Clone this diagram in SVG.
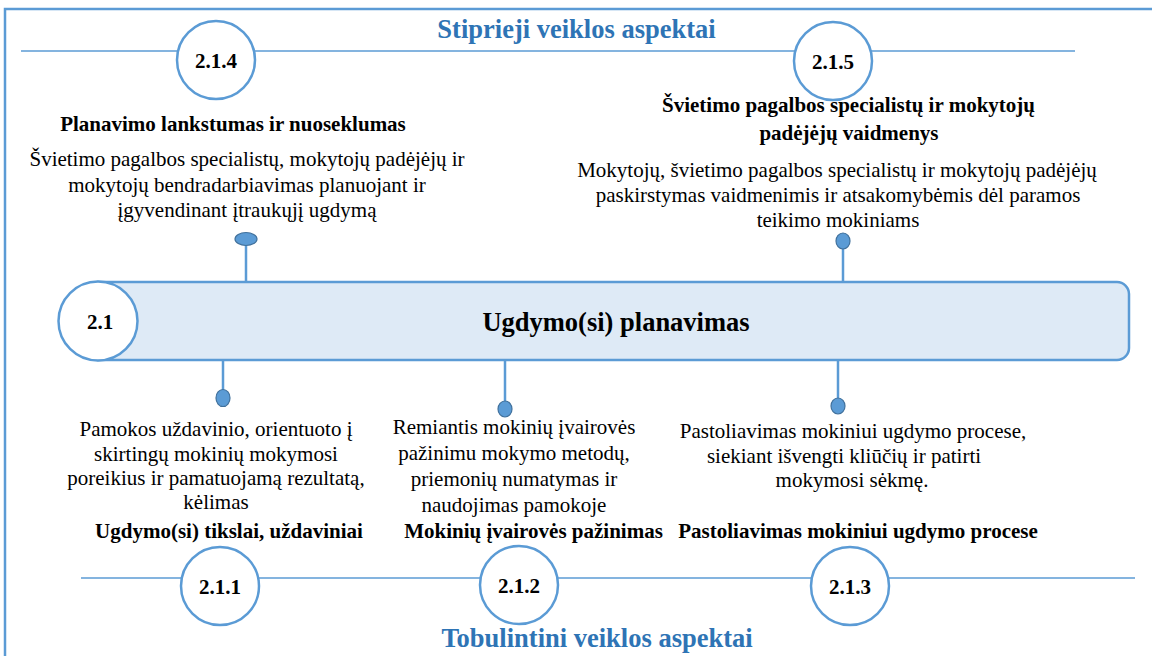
<svg xmlns="http://www.w3.org/2000/svg" width="1152" height="656" viewBox="0 0 1152 656">
<style>
.frame{fill:none;stroke:#5B9BD5;stroke-width:2.5}
.rule{stroke:#5B9BD5;stroke-width:1.5;fill:none}
.circ{fill:#fff;stroke:#5B9BD5;stroke-width:2.5}
.conn{stroke:#5B9BD5;stroke-width:2.5;fill:none}
.dot{fill:#5B9BD5;stroke:#41719C;stroke-width:1.2}
.bar{fill:#DEEAF6;stroke:#5B9BD5;stroke-width:2.5}
text{font-family:"Liberation Serif","Times New Roman",serif;fill:#000}
.num{font-size:21px;font-weight:bold;text-anchor:middle}
.head{font-size:26.5px;font-weight:bold;text-anchor:middle;fill:#2E74B5}
.lbl{font-size:21px;font-weight:bold;text-anchor:middle}
.body{font-size:21px;text-anchor:middle}
</style>
<rect class="frame" x="5" y="9" width="1160" height="660"/>
<line class="rule" x1="21" y1="51" x2="1075" y2="51"/>
<line class="rule" x1="81" y1="578" x2="1135" y2="578"/>
<text class="head" x="576.5" y="38">Stiprieji veiklos aspektai</text>
<text class="head" x="597" y="647">Tobulintini veiklos aspektai</text>

<g id="connectors">
<line class="conn" x1="246" y1="245" x2="246" y2="282"/>
<ellipse class="dot" cx="246" cy="239" rx="11" ry="6.5"/>
<line class="conn" x1="843" y1="248" x2="843" y2="282"/>
<ellipse class="dot" cx="843" cy="241" rx="7" ry="8"/>
<line class="conn" x1="223" y1="360" x2="223" y2="390"/>
<ellipse class="dot" cx="223" cy="398" rx="7" ry="8.5"/>
<line class="conn" x1="505" y1="360" x2="505" y2="401"/>
<ellipse class="dot" cx="505" cy="409" rx="7" ry="8"/>
<line class="conn" x1="838" y1="360" x2="838" y2="398"/>
<ellipse class="dot" cx="838" cy="406" rx="7" ry="8"/>
</g>

<g id="node-2-1">
<path class="bar" d="M98,282 H1117 A12,12 0 0 1 1129,294 V348 A12,12 0 0 1 1117,360 H98 Z"/>
<circle class="circ" cx="98" cy="321" r="39.5"/>
<text class="num" x="100" y="328.5">2.1</text>
<text class="head" style="fill:#000" x="616" y="331">Ugdymo(si) planavimas</text>
</g>

<g id="node-2-1-4">
<circle class="circ" cx="216" cy="60" r="39"/>
<text class="num" x="216" y="68">2.1.4</text>
<text class="lbl" x="233" y="131">Planavimo lankstumas ir nuoseklumas</text>
<text class="body" x="247" y="166">Švietimo pagalbos specialistų, mokytojų padėjėjų ir</text>
<text class="body" x="247" y="191.5">mokytojų bendradarbiavimas planuojant ir</text>
<text class="body" x="247" y="217">įgyvendinant įtraukųjį ugdymą</text>
</g>

<g id="node-2-1-5">
<circle class="circ" cx="833" cy="61" r="39"/>
<text class="num" x="833" y="69">2.1.5</text>
<text class="lbl" x="848.5" y="112">Švietimo pagalbos specialistų ir mokytojų</text>
<text class="lbl" x="849" y="140">padėjėjų vaidmenys</text>
<text class="body" x="837" y="177">Mokytojų, švietimo pagalbos specialistų ir mokytojų padėjėjų</text>
<text class="body" x="838" y="202">paskirstymas vaidmenimis ir atsakomybėmis dėl paramos</text>
<text class="body" x="838" y="227">teikimo mokiniams</text>
</g>

<g id="node-2-1-1">
<text class="body" x="216" y="436">Pamokos uždavinio, orientuoto į</text>
<text class="body" x="216" y="460.5">skirtingų mokinių mokymosi</text>
<text class="body" x="216" y="485">poreikius ir pamatuojamą rezultatą,</text>
<text class="body" x="216" y="509">kėlimas</text>
<text class="lbl" x="229" y="538">Ugdymo(si) tikslai, uždaviniai</text>
<circle class="circ" cx="220" cy="586" r="39"/>
<text class="num" x="220" y="593.5">2.1.1</text>
</g>

<g id="node-2-1-2">
<text class="body" x="514" y="434">Remiantis mokinių įvairovės</text>
<text class="body" x="514" y="460">pažinimu mokymo metodų,</text>
<text class="body" x="514" y="486">priemonių numatymas ir</text>
<text class="body" x="514" y="512">naudojimas pamokoje</text>
<text class="lbl" x="533.5" y="538">Mokinių įvairovės pažinimas</text>
<circle class="circ" cx="519" cy="585" r="39"/>
<text class="num" x="519" y="592.5">2.1.2</text>
</g>

<g id="node-2-1-3">
<text class="body" x="853" y="438">Pastoliavimas mokiniui ugdymo procese,</text>
<text class="body" x="844" y="462.5">siekiant išvengti kliūčių ir patirti</text>
<text class="body" x="852" y="487">mokymosi sėkmę.</text>
<text class="lbl" x="858" y="538">Pastoliavimas mokiniui ugdymo procese</text>
<circle class="circ" cx="850" cy="586" r="39"/>
<text class="num" x="850" y="593.5">2.1.3</text>
</g>
</svg>
